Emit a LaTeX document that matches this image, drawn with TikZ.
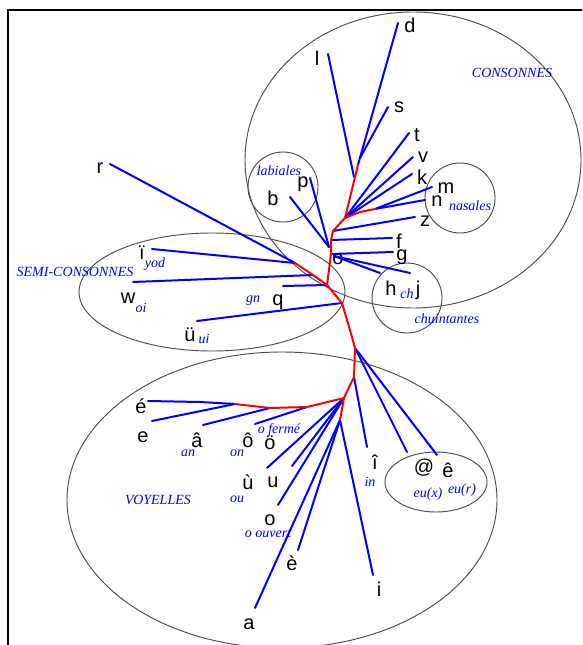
\documentclass[tikz,border=0pt]{standalone}
\usepackage{fontspec}
\setmainfont{Liberation Serif}
\newfontfamily\labfont{Liberation Sans}
\begin{document}
\begin{tikzpicture}[x=0.75pt,y=-0.75pt,
  bl/.style={draw=blue,line width=1.5pt,line cap=round},
  rd/.style={draw=red,line width=1.5pt,line join=round,line cap=round},
  grp/.style={draw=black!70,line width=0.7pt},
  lab/.style={inner sep=0pt,font=\labfont\fontsize{15}{15}\selectfont},
  tag/.style={inner sep=0pt,text=blue,font=\fontsize{10.5}{10.5}\selectfont\itshape},
  frm/.style={draw=black,line width=1.6pt}]
\clip (0,0) rectangle (582,645);
\fill[white] (0,0) rectangle (582,645);

% frame
\coordinate (fTL) at (8,10);
\coordinate (fTR) at (584,10);
\coordinate (fBL) at (8,647);
\draw[frm] (fBL) -- (fTL) -- (fTR);

% groups
\draw[grp] (413,160) ellipse [x radius=168, y radius=148];
\draw[grp] (283,187) circle [radius=35];
\draw[grp] (460,198) circle [radius=35];
\draw[grp] (407,298) circle [radius=35];
\draw[grp] (212,292) ellipse [x radius=133, y radius=59];
\draw[grp] (282,500) ellipse [x radius=215, y radius=148];
\draw[grp] (436,482) ellipse [x radius=51, y radius=30];

% labels
\node[lab] (Ld) at (410,25) {d};
\node[lab] (Ll) at (317,58) {l};
\node[lab] (Ls) at (399,107) {s};
\node[lab] (Lt) at (417,135) {t};
\node[lab] (Lv) at (423,157) {v};
\node[lab] (Lk) at (422,177) {k};
\node[lab] (Lm) at (446,188) {m};
\node[lab] (Ln) at (437,201) {n};
\node[lab] (Lz) at (425,221) {z};
\node[lab] (Lf) at (399,241) {f};
\node[lab] (Lg) at (402,257) {g};
\node[lab] (Lh) at (391,288) {h};
\node[tag] (Tch) at (407,294) {ch};
\node[lab] (Lj) at (418,290) {j};
\node[lab] (Lb) at (273,198) {b};
\node[lab] (Lp) at (303,184) {p};
\node[lab] (Lo) at (338,259) {o};
\node[lab] (Lr) at (100,168) {r};
\node[lab] (Li2) at (142,253) {ï};
\node[tag] (Tyod) at (155,264) {yod};
\node[lab] (Lw) at (128,298) {w};
\node[tag] (Toi) at (141,308) {oi};
\node[lab] (Lq) at (278,302) {q};
\node[tag] (Tgn) at (253,301) {gn};
\node[lab] (Lu2) at (190,335) {ü};
\node[tag] (Tui) at (204,339) {ui};
\node[lab] (Leacute) at (141,406) {é};
\node[lab] (Le) at (143,437) {e};
\node[lab] (Lacirc) at (197,440) {â};
\node[tag] (Tan) at (188,453) {an};
\node[lab] (Locirc) at (248,440) {ô};
\node[tag] (Ton) at (237,453) {on};
\node[lab] (Louml) at (270,443) {ö};
\node[tag] (Tofe) at (279,430) {o fermé};
\node[lab] (Lugrave) at (248,482) {ù};
\node[tag] (Tou) at (237,499) {ou};
\node[lab] (Lu) at (273,482) {u};
\node[lab] (Lo2) at (270,520) {o};
\node[tag] (Toou) at (268,534) {o ouvert};
\node[lab] (Legrave) at (292,563) {è};
\node[lab] (La) at (249,624) {a};
\node[lab] (Li) at (379,589) {i};
\node[lab] (Licirc) at (375,462) {î};
\node[tag] (Tin) at (370,482) {in};
\node[lab] (Lat) at (424,468) {@};
\node[lab] (Lecirc) at (448,470) {ê};
\node[tag] (Teux) at (428,494) {eu(x)};
\node[tag] (Teur) at (462,490) {eu(r)};
\node[tag] (Tcons) at (512,73) {CONSONNES};
\node[tag] (Tlab) at (279,171) {labiales};
\node[tag] (Tnas) at (470,206) {nasales};
\node[tag] (Tchu) at (447,319) {chuintantes};
\node[tag] (Tsemi) at (75,272) {SEMI-CONSONNES};
\node[tag] (Tvoy) at (158,500) {VOYELLES};

% tree junctions
\coordinate (R1) at (358,165);
\coordinate (R2) at (345,218);
\coordinate (Rmid) at (360,212);
\coordinate (Rm) at (375,209);
\coordinate (R4) at (333,231);
\coordinate (R5) at (331,240);
\coordinate (Rb) at (329,247);
\coordinate (H) at (331,254);
\coordinate (H2) at (334,256);
\coordinate (Rr) at (295,263);
\coordinate (Rw) at (313,275);
\coordinate (R7) at (327,285);
\coordinate (R8) at (342,303);
\coordinate (R9) at (350,330);
\coordinate (R10) at (355,348);
\coordinate (R11) at (354,377);
\coordinate (R12) at (344,398);
\coordinate (R13) at (340,420);
\coordinate (V1) at (307,407);
\coordinate (V2) at (270,408);
\coordinate (V3) at (235,404);
\coordinate (Vb) at (200,402);
\coordinate (Sd) at (360,158);

% leaf ends
\coordinate (Ed) at (398,23);
\coordinate (Es) at (388,107);
\coordinate (El) at (328,54);
\coordinate (El2) at (354,177);
\coordinate (Et) at (409,133);
\coordinate (Ev) at (413,157);
\coordinate (Ek) at (412,174);
\coordinate (Em) at (432,187);
\coordinate (En) at (425,200);
\coordinate (Ez) at (415,217);
\coordinate (Ef) at (392,238);
\coordinate (Eg) at (393,252);
\coordinate (Eh) at (380,273);
\coordinate (Ej) at (410,273);
\coordinate (Ep) at (310,178);
\coordinate (Eb) at (290,197);
\coordinate (Er) at (110,164);
\coordinate (Eyod) at (152,249);
\coordinate (Ew) at (133,282);
\coordinate (Egn) at (283,286);
\coordinate (Eui) at (197,321);
\coordinate (Eat) at (407,452);
\coordinate (Eecirc) at (437,455);
\coordinate (Eicirc) at (367,447);
\coordinate (Eeacute) at (148,401);
\coordinate (Ee) at (152,421);
\coordinate (Eacirc) at (203,425);
\coordinate (Eocirc) at (255,424);
\coordinate (Eouml) at (267,468);
\coordinate (Eu1) at (292,466);
\coordinate (Eu) at (278,505);
\coordinate (Eegrave) at (298,550);
\coordinate (Ea) at (255,608);
\coordinate (Ei) at (373,575);

% blue branches
\draw[bl] (Ed) -- (R1);
\draw[bl] (Es) -- (Sd);
\draw[bl] (El) -- (El2);
\draw[bl] (Et) -- (R2);
\draw[bl] (Ev) -- (R2);
\draw[bl] (Ek) -- (R2);
\draw[bl] (Em) -- (Rm);
\draw[bl] (En) -- (Rm);
\draw[bl] (Ez) -- (R4);
\draw[bl] (Ef) -- (R5);
\draw[bl] (Eg) -- (H);
\draw[bl] (Eh) -- (H2);
\draw[bl] (Ej) -- (H2);
\draw[bl] (Ep) -- (Rb);
\draw[bl] (Eb) -- (Rb);
\draw[bl] (Er) -- (Rr);
\draw[bl] (Eyod) -- (Rr);
\draw[bl] (Ew) -- (Rw);
\draw[bl] (Egn) -- (R7);
\draw[bl] (Eui) -- (R8);
\draw[bl] (Eat) -- (R10);
\draw[bl] (Eecirc) -- (R10);
\draw[bl] (Eicirc) -- (R11);
\draw[bl] (Eeacute) -- (Vb) -- (V3);
\draw[bl] (Ee) -- (V3);
\draw[bl] (Eacirc) -- (V2);
\draw[bl] (Eocirc) -- (V1);
\draw[bl] (Eouml) -- (R12);
\draw[bl] (Eu1) -- (R12);
\draw[bl] (Eu) -- (R12);
\draw[bl] (Eegrave) -- (R13);
\draw[bl] (Ea) -- (R13);
\draw[bl] (Ei) -- (R13);

% red trunk
\draw[rd] (R1) -- (R2) -- (R4) -- (R5) -- (H) -- (R7) -- (R8) -- (R9) -- (R10) -- (R11) -- (R12) -- (R13);
\draw[rd] (R2) -- (Rmid) -- (Rm);
\draw[rd] (Rr) -- (Rw) -- (R7);
\draw[rd] (R12) -- (V1) -- (V2) -- (V3);
\end{tikzpicture}
\end{document}
